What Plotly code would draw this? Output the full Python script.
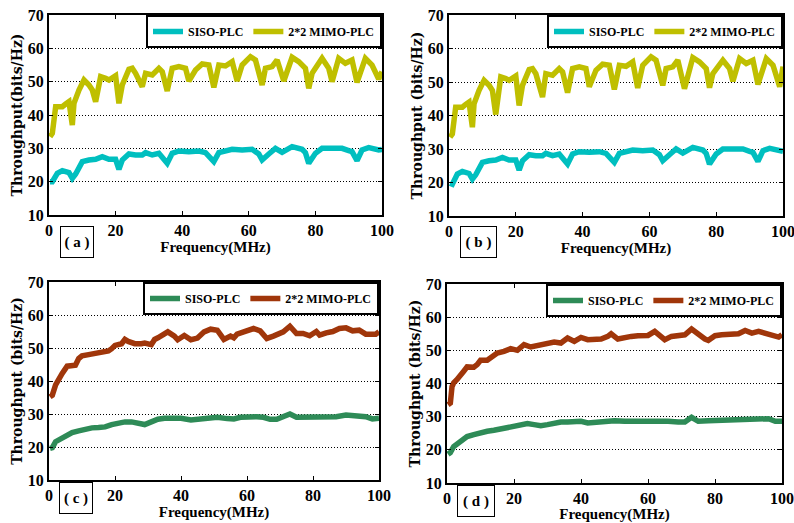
import plotly.graph_objects as go

# ---------------- data ----------------
freq_ab_mimo = [0.3,1,2,3,4,5,6,7,7.5,9,10.5,12,13,14,15.5,17,18,20,21,22,24,25,26,28,29,31,33,34,35.5,37,
                39,41,42,44,46,48,49.5,51,53,55,56.5,58,60.5,62,64,65,67,68.5,70.5,73,75,77,78,79,82,84,85,87,89,91,
                92.5,95,97,99,100]
thr_a_mimo = [33.5,34.5,42.5,42.7,42.5,43.3,44,37,43.5,47.5,50.5,49,47.5,44,51.5,51,50.5,51.8,43.5,49,
              53.7,54,52.5,48.5,52.5,52,54,53,47.2,54,54.5,54,50.2,53.5,55.3,55,48.3,55,54.7,56,
              50.2,55,57.5,56.5,49,54,54.5,56.5,50.2,57.3,56,54,48,52.5,57,54,50,57,55.5,56.5,
              49.8,57,55,50.8,53]
thr_b_mimo = [33.5,34.5,42.5,42.7,42.5,43.3,44,36.5,43.5,47.5,50.5,49,47.5,40.3,51.5,51,50.5,51.8,43,49,
              53.7,54,52.5,45.5,52.5,52,54,53,46.8,54,54.5,54,48.6,53.5,55.3,55,47.8,55,54.7,56,
              48.2,55,57.5,56.5,49,54,54.5,56.5,48,57.3,56,54,48.3,52.5,56.5,54,50.2,57,55.5,56.5,
              49.3,57,55,48.6,54.6]

freq_ab_siso = [0.3,1,2.5,4,6,7,8,10,12,14,16,18,20,21,22,24,26,28,29,31,33,35.5,37,39,42,45,47,49.5,51,53,
                55,58,61,63,64,66,68,70,73,76,77,78,80,82,85,88,90,91,92.5,94,96,99,100]
thr_a_siso = [20,20,22.5,23.3,22.7,21,22.3,26,26.5,26.7,27.5,26.7,26.7,23.7,26.5,28.3,28,28,28.7,28,
              28.5,25.5,28.5,29.2,29,29.2,28.7,26,28.7,29.2,29.7,29.5,29.7,28.3,26.5,28.3,30,28.8,30.5,29.7,
              28.7,25.5,28.5,30,30.2,30,29.3,29,26.3,29.5,30.2,29.5,29.7]
thr_b_siso = [19.8,19.5,22.5,23.3,22.7,21,22.3,26,26.5,26.7,27.5,26.7,26.7,23.7,26.5,28.3,28,28,28.7,28,
              28.5,25.5,28.5,29.2,29,29.2,28.7,26,28.7,29.2,29.7,29.5,29.7,28.3,26.5,28.3,30,28.8,30.5,29.7,
              28.7,25.5,28.5,30,30.2,30,29.3,29,26.3,29.5,30.2,29.5,29.3]

freq_c_mimo = [0.3,1,2,3,4,5.5,7,8,9,10,12,14,16,17,18,19,20,22,23,24,26,28,29,31,32,33,35,36,38,39,
               41,43,45,47,49,51,53,55,56,57,59,62,64,66,68,70,71,73,75,77,79,81,82,84,86,88,90,92,94,96,99,100]
thr_c_mimo = [35.2,35.7,38.8,40.8,42.3,44.5,44.5,44.8,46.8,47.6,48,48.3,48.7,49.1,49.1,49.8,50.8,51.3,52.6,52,
              51.3,51.3,51.5,51,52.6,53.1,54.2,54.9,53.6,52.5,53.8,52.5,53,54.9,55.7,55.4,52.6,53.6,53.1,54.2,
              54.9,55.9,55.2,52.9,53.6,54.2,54.9,56.6,54.4,54.4,53.7,55,53.9,54.6,55,55.9,56.1,55.2,55.4,54.2,
              54.2,54.9]
freq_c_siso = [0.3,1,2,4,5.5,7,9,11,13,15,17,19,21,23,25,27,29,31,33,35,38,40,43,45,47,49,51,54,56,58,
               61,63,65,67,69,71,73,75,78,81,84,87,90,93,96,98,100]
thr_c_siso = [19.6,19.8,21.6,22.9,23.9,24.4,24.9,25.4,25.8,25.9,26.1,26.8,27.4,27.6,27.6,27.2,26.8,27.6,28.4,28.7,
              28.7,28.7,28.2,28.4,28.7,29.2,29,28.6,28.5,29,29.2,29.2,29,28.4,28.4,29,30,29,29,29,
              29,29.2,29.7,29.5,29.2,28.5,28.7]

freq_d_mimo = [0.3,1,1.5,2,3,4,5,6,8,9,10,12,14,15,17,19,21,22,23,25,27,28,30,32,34,36,38,40,42,44,
               46,48,49,51,53,55,57,59,60,62,64,65,67,69,71,73,75,77,78,80,82,85,87,89,91,93,95,97,99,100]
thr_d_mimo = [33.6,34.1,39.1,40.2,41.2,42.2,43.7,45,44.9,45.7,47,47,48.2,49.2,49.7,50.5,50,51,51.7,51,
              51.4,52,52,52.5,52.2,53.7,52.7,53.9,53.2,53.4,53.4,54.2,55,53.4,54,54.2,54.4,54.7,54.5,55.7,
              54,53.2,54.2,54.4,54.7,56.4,54.7,53.4,53,54.4,54.7,54.7,55,56,55.2,55.7,55.2,54.4,54,54.7]
freq_d_siso = [0.3,1,2,4,6,8,10,12,14,16,18,20,22,24,26,28,30,32,34,36,38,40,42,44,46,48,50,53,56,58,
               61,63,66,69,71,73,75,78,81,84,87,90,93,96,98,100]
thr_d_siso = [18.7,19.2,21,22.5,24,24.6,25.3,25.6,25.9,26.3,26.9,27.3,27.6,27.9,27.6,27.3,27.6,28.1,28.4,28.4,
              28.4,28.6,28.1,28.3,28.4,28.6,28.8,28.6,28.6,28.8,28.9,28.9,28.6,28.4,28.4,29.8,28.6,28.8,28.9,28.9,
              29.1,29.3,29.3,29.4,28.6,28.6]

series_names = ["SISO-PLC", "2*2 MIMO-PLC"]
panel_labels = ["( a )", "( b )", "( c )", "( d )"]
y_titles = ["Throughput(bits/Hz)", "Throughput (bits/Hz)", "Throughput (bits/Hz)", "Throughput (bits/Hz)"]
x_title = "Frequency(MHz)"
x_ticks = [0, 20, 40, 60, 80, 100]
y_ticks = [10, 20, 30, 40, 50, 60, 70]

# ---------------- layout / styling ----------------
W, H = 794, 523
def px(X):
    return X / W
def py(Y):
    return 1 - Y / H

# plot boxes in page pixels: (left, right, top, bottom)
boxes = [(49, 382, 15, 215), (449, 783, 15, 216), (49, 379, 282, 480), (447, 782, 284, 483)]
label_boxes = [(77, 242), (478, 242), (76, 498), (476, 501)]
label_widths = [30, 33, 30, 34]
x_standoffs = [0, 0, 2, 3]
colors_top = ("#00BFBF", "#BFBF00")
colors_bot = ("#2E8B57", "#A0360A")

panels = [
    (freq_ab_siso, thr_a_siso, freq_ab_mimo, thr_a_mimo, colors_top),
    (freq_ab_siso, thr_b_siso, freq_ab_mimo, thr_b_mimo, colors_top),
    (freq_c_siso, thr_c_siso, freq_c_mimo, thr_c_mimo, colors_bot),
    (freq_d_siso, thr_d_siso, freq_d_mimo, thr_d_mimo, colors_bot),
]

SERIF = "Liberation Serif"
fig = go.Figure()
layout = dict(width=W, height=H, margin=dict(l=0, r=0, t=0, b=0),
              paper_bgcolor="white", plot_bgcolor="white", annotations=[])

for i, (xs, ys, xm, ym, cols) in enumerate(panels):
    n = "" if i == 0 else str(i + 1)
    leg = "legend" if i == 0 else f"legend{i + 1}"
    for xv, yv, name, col in ((xs, ys, series_names[0], cols[0]), (xm, ym, series_names[1], cols[1])):
        fig.add_trace(go.Scatter(x=xv, y=yv, mode="lines", name=name,
                                 line=dict(color=col, width=5.5), xaxis="x" + n, yaxis="y" + n,
                                 legend=leg))
    l, r, t, b = boxes[i]
    axis_common = dict(showline=True, linecolor="black", linewidth=2, mirror="ticks",
                       ticks="inside", ticklen=4, tickwidth=1, tickcolor="black",
                       tickfont=dict(family=SERIF, size=16, color="black", weight="bold"),
                       zeroline=False, automargin=False, ticklabeloverflow="allow")
    layout["xaxis" + n] = dict(domain=[px(l), px(r)], anchor="y" + n, range=[0, 100],
                               tickvals=x_ticks, showgrid=False,
                               title=dict(text=x_title, standoff=x_standoffs[i],
                                          font=dict(family=SERIF, size=15, color="black", weight="bold")),
                               **axis_common)
    layout["yaxis" + n] = dict(domain=[py(b), py(t)], anchor="x" + n, range=[10, 70],
                               tickvals=y_ticks, showgrid=True, gridcolor="black", gridwidth=1,
                               griddash="1px,2px",
                               title=dict(text=y_titles[i], standoff=2,
                                          font=dict(family="DejaVu Serif", size=14, color="black", weight="bold")),
                               **axis_common)
    layout[leg] = dict(x=px(r), y=py(t), xanchor="right", yanchor="top", orientation="h",
                       bgcolor="white", bordercolor="black", borderwidth=2,
                       font=dict(family=SERIF, size=12, color="black", weight="bold"),
                       itemwidth=30, tracegroupgap=0)
    cx, cy = label_boxes[i]
    layout["annotations"].append(dict(text=panel_labels[i], x=px(cx), y=py(cy), xref="paper",
                                      yref="paper", showarrow=False, xanchor="center", yanchor="middle",
                                      width=label_widths[i], height=28, bordercolor="black", borderwidth=1,
                                      font=dict(family=SERIF, size=15, color="black", weight="bold")))

fig.update_layout(**layout)
# remove the default 8px page margin so the 794x523 figure fills the window exactly
fig.write_html("out.html", config={"displayModeBar": False},
               post_script="document.body.style.margin='0';document.body.style.overflow='hidden';")
